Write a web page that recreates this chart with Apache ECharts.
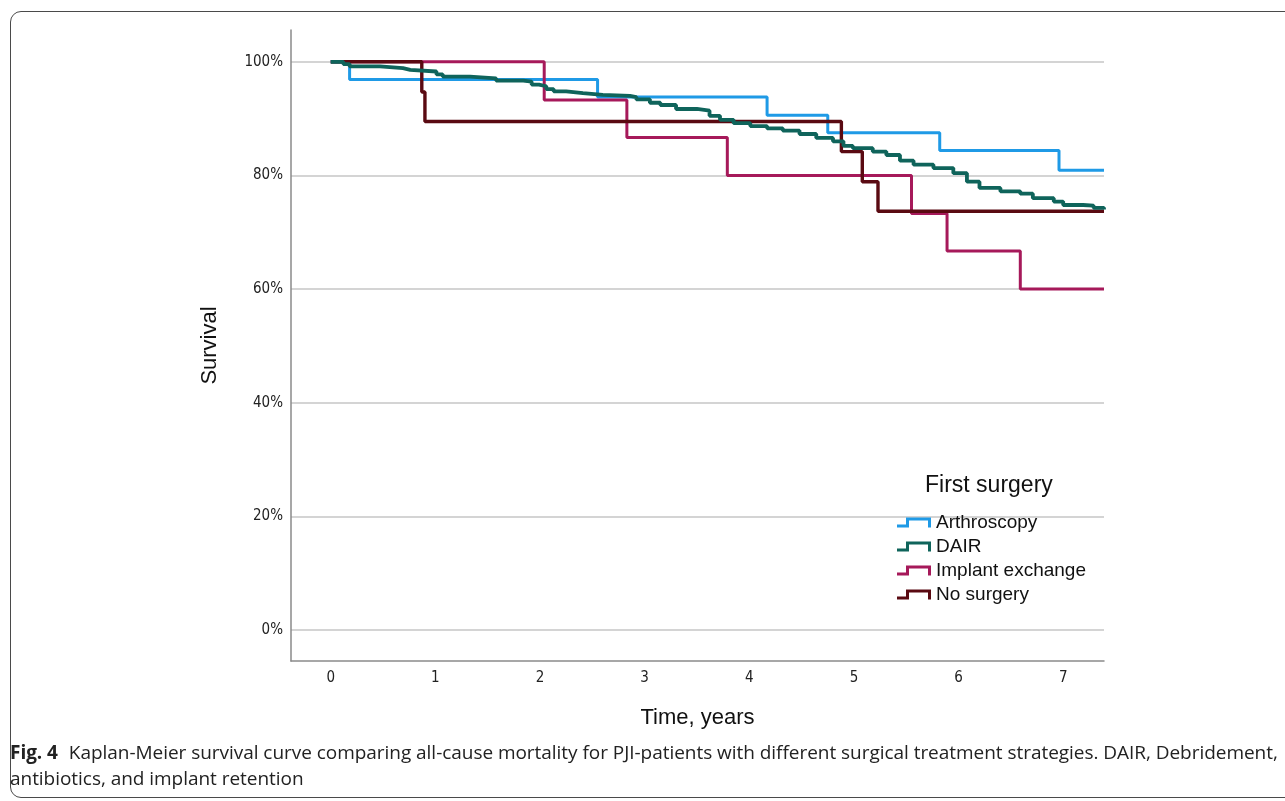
<!DOCTYPE html>
<html>
<head>
<meta charset="utf-8">
<script src="https://cdn.jsdelivr.net/npm/echarts@6/dist/echarts.min.js"></script>
<style>
  html, body { margin: 0; padding: 0; background: #fff; }
  #wrap { position: relative; width: 1285px; height: 801px; overflow: hidden; }
  #chart { position: absolute; left: 0; top: 0; width: 1285px; height: 801px; }
  #frame { position: absolute; left: 10px; top: 11px; width: 1320px; height: 787px;
           border: 1.5px solid #4a4a4a; border-radius: 11px; box-sizing: border-box; }
  #caption { position: absolute; left: 10px; top: 739px; width: 1275px; white-space: nowrap;
             font-family: "Open Sans", sans-serif; font-size: 19px; line-height: 26px; color: #222;
             letter-spacing: -0.04px; }
  #caption b { font-weight: 700; margin-right: 6px; }
</style>
</head>
<body>
<div id="wrap">
  <div id="frame"></div>
  <div id="chart"></div>
  <div id="caption"><b>Fig. 4</b> Kaplan-Meier survival curve comparing all-cause mortality for PJI-patients with different surgical treatment strategies. DAIR, Debridement,<br>antibiotics, and implant retention</div>
</div>
<script>
// tick labels
var xTicks = [0, 1, 2, 3, 4, 5, 6, 7];
var yTicks = [0, 20, 40, 60, 80, 100];

// groups
var groupNames = ['Arthroscopy', 'DAIR', 'Implant exchange', 'No surgery'];
var groupColors = ['#1f9ae6', '#0f645b', '#a6195a', '#5a0a12'];

// Kaplan-Meier steps: time (years) and survival (%) after each event
var arthroscopyTime = [0, 0.18, 2.55, 4.17, 4.75, 5.82, 6.96, 7.39];
var arthroscopySurv = [100, 96.9, 93.8, 90.6, 87.5, 84.4, 80.9, 80.9];

var dairTime = [0, 0.12, 0.18, 0.47, 0.69, 0.76, 1.01, 1.07, 1.33, 1.58, 1.84, 1.92, 1.99, 2.06, 2.13, 2.25,
  2.41, 2.60, 2.86, 2.92, 3.05, 3.15, 3.30, 3.50, 3.62, 3.72, 3.85, 4.01, 4.17, 4.32, 4.48, 4.64, 4.80,
  4.90, 4.99, 5.18, 5.31, 5.44, 5.57, 5.76, 5.95, 6.08, 6.20, 6.40, 6.59, 6.71, 6.91, 7.00, 7.19, 7.29, 7.39];
var dairSurv = [100, 99.6, 99.2, 98.9, 98.6, 98.3, 97.8, 97.4, 97.1, 96.7, 96.5, 96.0, 95.7, 95.2, 94.8, 94.5,
  94.2, 94.0, 93.8, 93.4, 92.8, 92.4, 91.7, 91.4, 90.5, 89.8, 89.2, 88.7, 88.3, 87.9, 87.3, 86.6, 86.0,
  85.2, 84.8, 84.2, 83.6, 82.6, 81.9, 81.3, 80.4, 78.9, 77.8, 77.2, 76.8, 76.0, 75.4, 74.8, 74.7, 74.3, 74.0];

var implantTime = [0, 2.04, 2.83, 3.79, 5.55, 5.89, 6.59, 7.39];
var implantSurv = [100, 93.3, 86.7, 80, 73.3, 66.7, 60, 60];

var noSurgeryTime = [0, 0.87, 0.90, 4.88, 5.08, 5.23, 7.39];
var noSurgerySurv = [100, 94.7, 89.5, 84.2, 78.9, 73.7, 73.7];

var zip = function (xs, ys) {
    return xs.map(function (x, i) { return [x, ys[i]]; });
};
var curves = [
    zip(arthroscopyTime, arthroscopySurv),
    zip(dairTime, dairSurv),
    zip(implantTime, implantSurv),
    zip(noSurgeryTime, noSurgerySurv)
];
var widths = [3, 3.8, 3, 3.4];

// step shaped legend icon
var stepIcon = 'path://M0,7 L9,7 L9,0 L34,0 L34,10 L31,10 L31,3 L12,3 L12,10 L0,10 Z';

var axisFont = '"DejaVu Sans Condensed", "DejaVu Sans", sans-serif';
var titleFont = '"Liberation Sans", Arial, sans-serif';

var chart = echarts.init(document.getElementById('chart'));
chart.setOption({
    animation: false,
    grid: { left: 291, right: 181, top: 30, bottom: 140 },
    xAxis: {
        type: 'value', min: -0.38, max: 7.39,
        name: 'Time, years', nameLocation: 'middle', nameGap: 46,
        nameTextStyle: { fontFamily: titleFont, fontSize: 22, color: '#111' },
        axisLine: { onZero: false, lineStyle: { color: '#8a8a8a', width: 1.5 } },
        axisTick: { show: false, customValues: xTicks },
        axisLabel: { customValues: xTicks, margin: 10, fontFamily: axisFont, fontSize: 15, color: '#222' },
        splitLine: { show: false }
    },
    yAxis: {
        type: 'value', min: -5.45, max: 105.6,
        name: 'Survival', nameLocation: 'middle', nameGap: 70, nameRotate: 90,
        nameTextStyle: { fontFamily: titleFont, fontSize: 22, color: '#111' },
        axisLine: { show: true, onZero: false, lineStyle: { color: '#8a8a8a', width: 1.5 } },
        axisTick: { show: false, customValues: yTicks },
        axisLabel: {
            customValues: yTicks, margin: 8, fontFamily: axisFont, fontSize: 15, color: '#222',
            formatter: function (v) { return v + '%'; }
        },
        splitLine: { show: true, lineStyle: { color: '#c6c6c6', width: 1.5 } }
    },
    legend: {
        orient: 'vertical', left: 892, top: 508,
        itemWidth: 34, itemHeight: 10, itemGap: 5,
        icon: stepIcon,
        textStyle: { fontFamily: titleFont, fontSize: 19, color: '#111' },
        data: groupNames
    },
    graphic: [{
        type: 'text', left: 925, top: 474,
        style: { text: 'First surgery', fontFamily: titleFont, fontSize: 23, fill: '#111' }
    }],
    series: curves.map(function (d, i) {
        return {
            name: groupNames[i], type: 'line', step: 'end', data: d,
            showSymbol: false, symbol: 'none', color: groupColors[i],
            lineStyle: { color: groupColors[i], width: widths[i] },
            itemStyle: { color: groupColors[i] },
            z: i === 1 ? 3 : 2
        };
    })
});
</script>
</body>
</html>
